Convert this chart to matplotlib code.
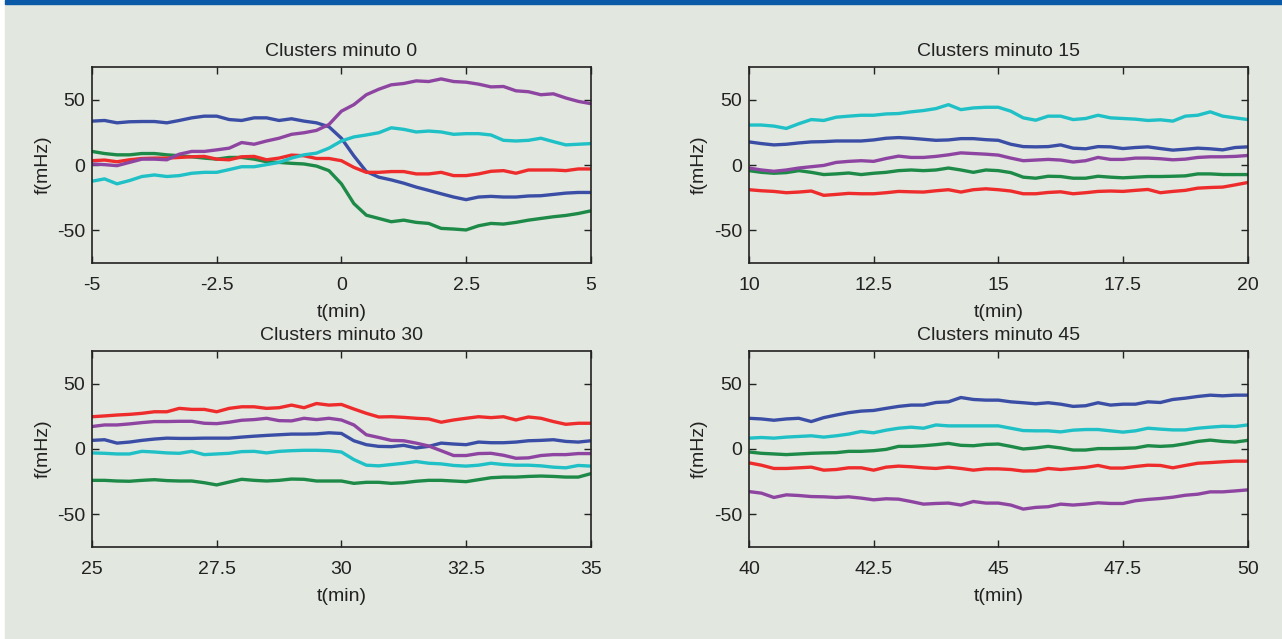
import numpy as np
import matplotlib
matplotlib.use('Agg')
import matplotlib.pyplot as plt
from matplotlib.patches import Rectangle

plt.rcParams['font.family'] = ['Liberation Sans', 'DejaVu Sans']
plt.rcParams['font.size'] = 14
plt.rcParams['axes.unicode_minus'] = False

# time grids (min), sampled every 0.25 min
t_0 = np.arange(-5, 5.01, 0.25)
t_15 = np.arange(10, 20.01, 0.25)
t_30 = np.arange(25, 35.01, 0.25)
t_45 = np.arange(40, 50.01, 0.25)

# Clusters minuto 0
m0_blue = [33.6, 34.1, 32.3, 33.1, 33.3, 33.3, 32.3, 34.1, 36.1, 37.4, 37.4, 34.8, 34.1, 36.1, 36.1, 34.1, 35.4,
           33.6, 32.3, 29.3, 20.5, 7, -5, -9.3, -11.4, -13.9, -16.9, -19.4, -22, -24.5, -26.5, -24.5, -24, -24.5,
           -24.5, -23.7, -23.5, -22.5, -21.5, -21, -21]
m0_green = [10.4, 8.8, 7.8, 7.8, 8.8, 8.8, 7.8, 7.1, 6.3, 5.3, 4.5, 5.8, 5.8, 4.5, 2.5, 2, 1.3, 0.8, -0.8, -4.3,
            -14.4, -29.5, -38.4, -40.9, -43.4, -42.2, -43.9, -44.7, -48.5, -49, -49.7, -46.5, -44.7, -45.2, -43.9,
            -42.2, -40.9, -39.6, -38.6, -37.1, -35.1]
m0_red = [3.3, 3.8, 2.5, 4, 5, 5.3, 5.3, 5.8, 6.3, 6.6, 4.5, 4, 6.3, 6.6, 4, 5.3, 7.6, 7.1, 5, 5, 3.3, -1.8, -5.6,
          -5.6, -5, -5, -6.8, -6.8, -5.6, -8.1, -8.1, -6.8, -4.8, -4.3, -6.3, -3.8, -3.8, -3.8, -4.3, -3, -3]
m0_cyan = [-12.4, -10.6, -14.4, -11.9, -8.8, -7.6, -8.8, -8.1, -6.3, -5.6, -5.6, -3.5, -1.3, -1.3, 0.3, 2, 5.3, 7.8,
           9.1, 12.9, 18.4, 21.5, 23, 24.7, 28.5, 27.3, 25.3, 26, 25.3, 23.5, 24, 24, 23, 18.9, 18.4, 18.9, 20.5,
           17.9, 15.4, 15.9, 16.4]
m0_purple = [0.8, 0.3, -0.5, 2, 4.5, 4.5, 4, 8.3, 10.4, 10.4, 11.6, 12.9, 17.2, 15.9, 18.4, 20.5, 23.5, 24.7, 26.5,
             31, 41.2, 46.2, 53.8, 58, 61.4, 62.4, 64.4, 63.9, 65.9, 63.9, 63.4, 61.9, 59.8, 60.1, 56.8, 56.1, 53.8,
             54.5, 51.3, 48.7, 47]

# Clusters minuto 15
m15_blue = [17.7, 16.4, 15.4, 15.9, 16.9, 17.7, 17.9, 18.4, 18.4, 18.4, 19.2, 20.5, 21, 20.5, 19.7, 18.9, 19.2,
            20.2, 20.2, 19.4, 18.9, 15.9, 14.1, 13.9, 14.1, 15.4, 12.9, 12.4, 14.1, 13.9, 12.6, 13.4, 13.9, 12.6,
            11.4, 12.1, 12.9, 12.4, 11.6, 13.4, 13.9]
m15_green = [-4.3, -5.6, -6.3, -5.8, -4.3, -5.6, -7.3, -6.8, -6.1, -7.3, -6.3, -5.6, -4.3, -3.8, -4.3, -3.8, -2.3,
             -3.8, -5.6, -3.8, -4.3, -5.8, -9.3, -10.1, -8.6, -8.8, -10.1, -10.1, -8.6, -9.3, -9.8, -9.3, -8.8,
             -8.8, -8.6, -8.3, -6.8, -6.8, -7.3, -7.3, -7.3]
m15_red = [-18.9, -19.7, -20.2, -21.2, -20.7, -19.9, -23.2, -22.5, -21.7, -22, -22, -21.2, -20.2, -20.5, -20.7,
           -19.7, -18.9, -20.7, -18.9, -18.2, -18.9, -19.9, -22, -22, -21, -20.5, -22, -21.2, -20.2, -19.9, -20.2,
           -19.4, -18.7, -21.2, -20.2, -19.4, -17.7, -17.2, -16.9, -15.2, -13.4]
m15_cyan = [30.6, 30.6, 29.8, 28.0, 31.6, 34.8, 34.1, 36.6, 37.4, 38.1, 38.1, 39.1, 39.4, 40.7, 41.7, 43.2, 46.2,
            42.4, 43.7, 44.2, 44.2, 41.2, 36.1, 34.3, 37.4, 37.4, 34.8, 35.6, 38.1, 36.1, 35.6, 35.1, 34.1, 34.6,
            33.6, 37.4, 38.1, 40.7, 37.4, 36.1, 34.8]
m15_purple = [-2.3, -3.8, -4.8, -3.8, -2.3, -1.3, -0.3, 2, 2.8, 3.3, 2.8, 5, 6.8, 5.8, 5.8, 6.6, 7.8, 9.3, 8.8, 8.3,
              7.6, 5.3, 3.3, 3.8, 4.3, 3.8, 2.3, 3.3, 5.8, 4.3, 4.3, 5.3, 5.3, 4.8, 4, 4.5, 5.8, 6.3, 6.3, 6.6, 7.3]

# Clusters minuto 30
m30_blue = [6.6, 7.1, 4.5, 5.3, 6.6, 7.6, 8.3, 8.1, 8.1, 8.3, 8.3, 8.3, 9.1, 9.8, 10.4, 10.9, 11.4, 11.4, 11.6,
            12.4, 11.9, 6.3, 3.3, 2, 1.8, 2.8, 0.8, 2, 4.5, 3.8, 3.3, 5.3, 4.8, 4.8, 5.3, 6.3, 6.6, 7.1, 5.8, 5.3,
            6.3]
m30_green = [-24, -24, -24.5, -24.7, -24, -23.5, -24.2, -24.5, -24.5, -25.8, -27.5, -25.3, -23.2, -24, -24.5, -24,
             -23, -23.2, -24.5, -24.5, -24.5, -26.3, -25.5, -25.5, -26.3, -25.8, -24.7, -24, -24, -24.5, -25, -23.5,
             -22, -21.5, -21.5, -21, -20.7, -21, -21.5, -21.5, -18.9]
m30_red = [24.7, 25.3, 26, 26.5, 27.3, 28.5, 28.5, 31.1, 30.3, 30.3, 28.5, 31.1, 32.3, 32.3, 31.1, 31.6, 33.6, 31.6,
           34.8, 33.6, 34.1, 30.6, 27.3, 24.5, 24.7, 24.2, 23.5, 23, 20.5, 22.2, 23.5, 24.7, 24, 24.7, 22.2, 24.5,
           23.5, 21, 18.9, 19.7, 19.7]
m30_cyan = [-3, -3.3, -3.8, -3.8, -1.8, -2.3, -3, -3.3, -1.8, -4.3, -3.8, -3.3, -2, -1.8, -3, -1.8, -1.3, -1, -1,
            -1.3, -2.3, -8.1, -12.4, -12.9, -11.9, -10.9, -9.6, -10.9, -11.4, -12.6, -13.1, -12.4, -10.9, -11.9,
            -12.4, -12.4, -12.9, -13.9, -14.4, -12.6, -13.1]
m30_purple = [17.2, 18.4, 18.4, 19.2, 20.2, 21, 21, 21.2, 21.2, 19.7, 19.4, 20.5, 22, 22.5, 23.5, 21.7, 21.5, 23.5,
              22.5, 23.5, 22.2, 18.4, 10.9, 8.8, 6.6, 6.3, 4.5, 2.3, -1.3, -5, -5, -3.5, -3.3, -4.8, -7.1, -6.8,
              -5, -4.3, -4.3, -3.5, -3.5]

# Clusters minuto 45
m45_blue = [23.5, 23, 22, 23, 23.5, 21, 24, 26, 27.8, 29, 29.5, 31.1, 32.6, 33.6, 33.6, 35.6, 36.1, 39.4, 37.9,
            37.4, 37.4, 36.1, 35.4, 34.6, 35.4, 34.3, 32.6, 33.1, 35.4, 33.6, 34.3, 34.3, 36.1, 35.6, 37.9, 38.9,
            40.2, 41.2, 40.7, 41.2, 41.2]
m45_green = [-2.3, -3.3, -3.8, -4.3, -3.8, -3.3, -3, -2.8, -1.8, -1.8, -1.3, -0.3, 2, 2, 2.5, 3.3, 4.3, 2.8, 2.5,
             3.5, 3.8, 2, 0, 0.8, 2, 0.8, -0.8, -0.8, 0.3, 0.3, 0.5, 0.8, 2.5, 2, 2.5, 4, 5.8, 6.8, 5.8, 5.3, 6.6]
m45_red = [-10.6, -12.4, -14.9, -14.9, -14.4, -13.9, -16.2, -15.7, -14.4, -14.4, -16.2, -13.9, -13.1, -13.6, -14.4,
           -14.9, -13.9, -14.9, -16.2, -15.2, -15.2, -15.7, -16.9, -16.7, -14.9, -15.7, -14.9, -14.1, -12.6, -14.6,
           -14.6, -13.4, -12.4, -12.6, -14.4, -12.6, -10.9, -10.4, -9.8, -9.3, -9.3]
m45_cyan = [8.3, 8.8, 8.3, 9.1, 9.6, 10.1, 9.1, 10.1, 11.4, 13.4, 12.4, 14.4, 15.9, 16.7, 15.9, 18.4, 17.7, 17.7,
            17.7, 17.7, 17.7, 15.9, 14.1, 13.9, 13.9, 13.1, 14.4, 14.9, 14.9, 13.9, 12.9, 13.9, 15.9, 15.2, 14.6,
            14.6, 15.9, 16.7, 17.4, 17.2, 18.4]
m45_purple = [-32.6, -33.8, -37.1, -35.1, -35.6, -36.4, -36.6, -37.1, -36.6, -37.6, -38.9, -38.1, -38.4, -40.2,
              -42.2, -41.7, -41.4, -42.9, -40.2, -41.4, -41.4, -42.9, -46, -44.7, -44.2, -42.2, -42.9, -42.2, -41.2,
              -41.7, -41.7, -39.6, -38.6, -37.9, -36.9, -35.4, -34.6, -32.8, -32.8, -32.1, -31.3]

panels = [
    ('Clusters minuto 0', t_0, [-5, -2.5, 0, 2.5, 5], [m0_blue, m0_green, m0_red, m0_cyan, m0_purple]),
    ('Clusters minuto 15', t_15, [10, 12.5, 15, 17.5, 20], [m15_blue, m15_green, m15_red, m15_cyan, m15_purple]),
    ('Clusters minuto 30', t_30, [25, 27.5, 30, 32.5, 35], [m30_blue, m30_green, m30_red, m30_cyan, m30_purple]),
    ('Clusters minuto 45', t_45, [40, 42.5, 45, 47.5, 50], [m45_blue, m45_green, m45_red, m45_cyan, m45_purple]),
]
colors = ['#3b4ea6', '#1d8a48', '#ee2c2c', '#1fc0c6', '#8e45a1']

bg = '#e2e7e0'
fig = plt.figure(figsize=(12.82, 6.39), dpi=100, facecolor='white')
fig.patches.append(Rectangle((5 / 1282, 0), 1, 1, transform=fig.transFigure, color=bg, zorder=-2))
fig.patches.append(Rectangle((5 / 1282, 1 - 4 / 639), 1, 4 / 639, transform=fig.transFigure,
                             color='#0a5aa8', zorder=-1))

positions = [(0.0718, 0.5884), (0.5842, 0.5884), (0.0718, 0.1440), (0.5842, 0.1440)]
for (title, t, xt, series), (left, bottom) in zip(panels, positions):
    ax = fig.add_axes([left, bottom, 0.389, 0.3067])
    ax.set_facecolor(bg)
    for y, c in zip(series, colors):
        ax.plot(t, y, color=c, lw=2.4, solid_joinstyle='round')
    ax.set_xlim(xt[0], xt[-1])
    ax.set_ylim(-75, 75)
    ax.set_xticks(xt)
    ax.set_xticklabels(['%g' % v for v in xt])
    ax.set_yticks([-50, 0, 50])
    ax.tick_params(direction='in', length=5, width=1, top=True, right=True, colors='#222222',
                   labelcolor='#222222')
    ax.tick_params(axis='x', pad=10)
    ax.tick_params(axis='y', pad=5)
    for s in ax.spines.values():
        s.set_linewidth(1.2)
        s.set_color('#222222')
    ax.set_title(title, fontsize=14, pad=8, color='#222222')
    ax.set_xlabel('t(min)', labelpad=7.5, color='#222222')
    ax.set_ylabel('f(mHz)', labelpad=4, color='#222222')

fig.savefig('out.png', dpi=100, facecolor='white')
